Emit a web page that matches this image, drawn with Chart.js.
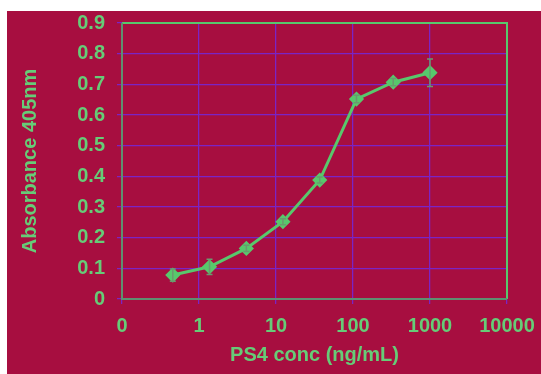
<!DOCTYPE html>
<html lang="en">
<head>
  <meta charset="UTF-8" />
  <title>PS4 ELISA</title>
  <script src="https://cdn.jsdelivr.net/npm/chart.js"></script>
<style>
  body {
    margin: 0;
    background-color: white;
  }
  #wrap {
    position: absolute;
    left: 7px;
    top: 11px;
    width: 534px;
    height: 363px;
    background-color: rgb(167, 14, 64);
  }
</style>
</head>
<body>
  <div id="wrap"><canvas id="chart" width="534" height="363"></canvas></div>

  <script>
    // PS4 concentration (ng/mL), 3-fold dilutions
    const conc = [0.457, 1.37, 4.12, 12.3, 37, 111, 333, 1000];
    const absorbance = [0.078, 0.105, 0.165, 0.252, 0.388, 0.652, 0.707, 0.738];
    const errors = [0.02, 0.025, 0.01, 0.01, 0.01, 0.012, 0.012, 0.045];

    const xTickValues = [0.1, 1, 10, 100, 1000, 10000];
    const xTickLabels = ["0", "1", "10", "100", "1000", "10000"];
    const yTickLabels = ["0", "0.1", "0.2", "0.3", "0.4", "0.5", "0.6", "0.7", "0.8", "0.9"];

    const green = "#66CC77";
    const lineGreen = "#58C86C";
    const purple = "#7A24C6";
    const font = { family: "'Liberation Sans', Arial, sans-serif", size: 20, weight: "bold" };

    // error bars + plot frame
    const extras = {
      id: "extras",
      afterDatasetsDraw(chart) {
        const { ctx, scales: { x, y } } = chart;
        ctx.save();
        ctx.strokeStyle = "#6A9A6E";
        ctx.lineWidth = 1.5;
        conc.forEach((c, i) => {
          const px = x.getPixelForValue(c);
          const top = y.getPixelForValue(absorbance[i] + errors[i]);
          const bot = y.getPixelForValue(absorbance[i] - errors[i]);
          ctx.beginPath();
          ctx.moveTo(px, top); ctx.lineTo(px, bot);
          ctx.moveTo(px - 3, top); ctx.lineTo(px + 3, top);
          ctx.moveTo(px - 3, bot); ctx.lineTo(px + 3, bot);
          ctx.stroke();
        });
        ctx.restore();
      },
      afterDraw(chart) {
        const { ctx, chartArea: a } = chart;
        ctx.save();
        ctx.lineWidth = 2;
        ctx.strokeStyle = lineGreen;
        ctx.beginPath();
        ctx.moveTo(a.left, a.top); ctx.lineTo(a.right, a.top); ctx.lineTo(a.right, a.bottom);
        ctx.stroke();
        ctx.strokeStyle = "#5E9070";
        ctx.beginPath();
        ctx.moveTo(a.left, a.top); ctx.lineTo(a.left, a.bottom); ctx.lineTo(a.right, a.bottom);
        ctx.stroke();
        ctx.restore();
      }
    };

    new Chart(document.getElementById("chart"), {
      type: "scatter",
      data: {
        datasets: [{
          data: conc.map((c, i) => ({ x: c, y: absorbance[i] })),
          showLine: true,
          borderColor: lineGreen,
          borderWidth: 3,
          pointStyle: "rectRot",
          pointRadius: 5.5,
          pointBackgroundColor: lineGreen,
          pointBorderColor: lineGreen
        }]
      },
      options: {
        responsive: false,
        animation: false,
        layout: { padding: { top: 12, right: 34, left: 0, bottom: 0 } },
        plugins: { legend: { display: false }, tooltip: { enabled: false } },
        scales: {
          x: {
            type: "logarithmic",
            min: 0.1,
            max: 10000,
            afterBuildTicks: (s) => { s.ticks = xTickValues.map(v => ({ value: v })); },
            afterFit: (s) => { s.height = 75; s.paddingLeft = 0; s.paddingRight = 0; },
            ticks: {
              color: green,
              font: font,
              padding: 10,
              maxRotation: 0,
              autoSkip: false,
              callback: (v) => xTickLabels[xTickValues.indexOf(v)]
            },
            grid: { color: purple, lineWidth: 1.25, tickLength: 5 },
            border: { display: false },
            title: { display: true, text: "PS4 conc (ng/mL)", color: green, font: font, padding: { bottom: 7 } }
          },
          y: {
            min: 0,
            max: 0.9,
            afterBuildTicks: (s) => { s.ticks = yTickLabels.map((t, i) => ({ value: i / 10 })); },
            afterFit: (s) => { s.width = 115; s.paddingTop = 0; s.paddingBottom = 0; },
            ticks: {
              color: green,
              font: font,
              padding: 12,
              callback: (v, i) => yTickLabels[i]
            },
            grid: { color: purple, lineWidth: 1.25, tickLength: 5 },
            border: { display: false },
            title: { display: true, text: "Absorbance 405nm", color: green, font: font, padding: { top: 11 } }
          }
        }
      },
      plugins: [extras]
    });
  </script>
</body>
</html>
